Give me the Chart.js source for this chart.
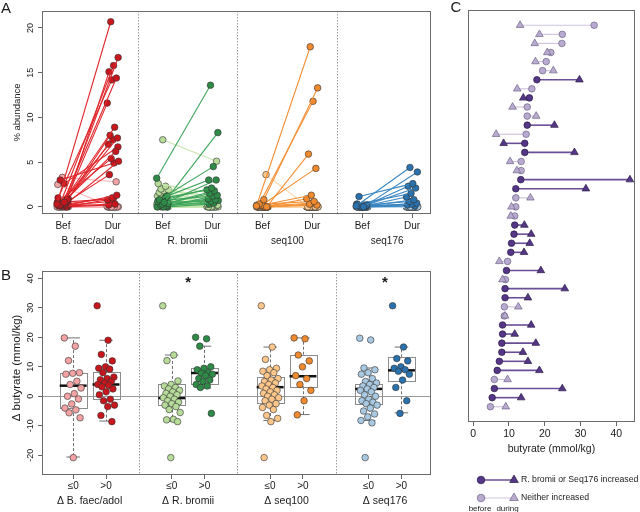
<!DOCTYPE html>
<html lang="en">
<head>
  <meta charset="UTF-8">
  <title>Taxa abundance and butyrate</title>
  <script src="https://cdn.jsdelivr.net/npm/chart.js"></script>
  <style>
    body {
      margin: 0;
      background: #ffffff;
    }
    #fig {
      position: relative;
      width: 640px;
      height: 512px;
      overflow: hidden;
    }
    canvas {
      position: absolute;
    }
  </style>
</head>
<body>
  <div id="fig">
    <canvas id="chartA" style="left:0;top:0" width="440" height="250"></canvas>
    <canvas id="chartB" style="left:0;top:250px" width="440" height="262"></canvas>
    <canvas id="chartC" style="left:440px;top:0" width="200" height="512"></canvas>
  </div>

  <script>
    // axis ticks and labels
    const aTicks = [0, 5, 10, 15, 20];
    const bTicks = [-20, -10, 0, 10, 20, 30, 40];
    const cTicks = [0, 10, 20, 30, 40];
    const taxa = ['B. faec/adol', 'R. bromii', 'seq100', 'seq176'];
    const phaseLabels = ['Bef', 'Dur'];
    const splitLabels = ['≤0', '>0'];
    const starred = ['R. bromii', 'seq176'];

    // panel A: % abundance before and during, one entry per subject
    const bfBef = [0.3, 0.5, 0.2, 0.8, 0.4, 1.0, 0.6, 0.2, 0.9, 0.3, 0.1, 0.7, 0.4, 0.5, 0.2, 3.0, 0.6, 0.1, 0.2, 0.0, 0.1, 0.2, 2.6, 0.5, 0.0,
                   3.3, 2.5, 0.4, 0.3, 0.1, 0, 0, 0, 0, 0, 0, 0, 0.2, 0, 0, 0.1, 0, 0];
    const bfDur = [20.7, 16.7, 15.8, 15.1, 14.4, 14.2, 11.6, 8.9, 8.0, 7.7, 7.5, 7.0, 6.2, 5.4, 5.1, 4.9, 3.6, 1.3, 1.0, 0.8, 0.3, 0.6, 6.7, 0.9, 0.2,
                   2.8, 0, 0.1, 0, 0, 0, 0, 0, 0, 0, 0, 0, 0, 0, 0, 0, 0, 0];
    const rbBef = [3.2, 0.5, 0.8, 1.2, 0.3, 0.6, 1.0, 0.2, 0.4, 0.0, 0.7, 0.1, 0.3, 0.0, 0.5, 0.2, 0.0,
                   7.5, 2.6, 2.3, 2.0, 1.9, 1.8, 1.6, 1.5, 1.3, 1.2, 1.0, 0.9, 0.8, 0.7, 0.6, 0.5, 0.4, 0.3, 0.2, 0.1, 0, 0, 0, 0, 0, 0];
    const rbDur = [13.6, 8.3, 4.5, 3.0, 3.0, 2.1, 1.9, 1.8, 1.5, 1.3, 1.2, 0.9, 0.8, 0.6, 0.7, 0.4, 0.3,
                   5.1, 1.5, 0.3, 0.9, 1.2, 0.2, 0.5, 0.0, 0.4, 0.0, 0.1, 0.6, 0.0, 0.2, 0.0, 0.3, 0.0, 0.1, 0, 0, 0, 0, 0, 0, 0, 0];
    const s100Bef = [0.1, 0.8, 0.3, 0.0, 0.2, 0.1, 0.0, 0.3, 0.0, 0.0, 0.1,
                     3.6, 0.3, 0.2, 0.1, 0, 0, 0, 0, 0, 0, 0, 0, 0, 0, 0, 0, 0, 0, 0, 0, 0, 0, 0, 0, 0, 0, 0, 0, 0, 0, 0, 0];
    const s100Dur = [17.9, 13.3, 11.8, 5.9, 4.3, 1.3, 0.9, 0.6, 0.3, 0.2, 0.4,
                     0, 0, 0, 0, 0, 0, 0, 0, 0, 0, 0, 0, 0, 0, 0, 0, 0, 0, 0, 0, 0, 0, 0, 0, 0, 0, 0, 0, 0, 0, 0, 0];
    const s176Bef = [0.1, 0.0, 1.15, 0.2, 0.0, 0.3, 0.1, 0.0, 0.2, 0.0, 0.1, 0.0, 0.0,
                     0.3, 0.2, 0.1, 0.1, 0, 0, 0, 0, 0, 0, 0, 0, 0, 0, 0, 0, 0, 0, 0, 0, 0, 0, 0, 0, 0, 0, 0, 0, 0, 0];
    const s176Dur = [4.4, 3.9, 2.6, 2.3, 2.1, 1.5, 1.1, 0.8, 0.6, 0.4, 0.3, 0.2, 0.1,
                     0, 0, 0, 0, 0, 0, 0, 0, 0, 0, 0, 0, 0, 0, 0, 0, 0, 0, 0, 0, 0, 0, 0, 0, 0, 0, 0, 0, 0, 0];

    // panel B: change in butyrate, split by whether the taxon went up
    const bfDown = [19.8, 17.0, 12.1, 8.0, 7.8, 7.5, 5.1, 4.0, 2.8, 0.9, 0.0, -0.9, -2.6, -4.0, -4.6, -5.6, -7.3, -20.8];
    const bfUp = [30.7, 19.0, 14.2, 12.0, 10.0, 9.5, 9.2, 8.0, 6.5, 6.0, 5.6, 5.0, 4.5, 4.0, 3.7, 3.2, 2.5, 1.5, 0.5, -1.0, -1.5, -3.0, -3.5, -6.5, -8.6];
    const rbDown = [30.7, 14.0, 12.1, 5.2, 4.0, 3.5, 3.0, 2.5, 2.0, 1.5, 1.0, 0.5, 0.0, -0.5, -1.0, -1.5, -2.0, -2.5, -3.0, -3.5, -4.5, -5.5, -7.8, -8.0, -8.6, -20.8];
    const rbUp = [20.0, 19.5, 17.0, 10.0, 9.5, 9.0, 8.0, 7.8, 7.5, 7.0, 6.0, 5.5, 5.0, 4.0, 3.5, 3.0, -5.8];
    const s100Down = [30.7, 16.7, 12.5, 9.5, 9.0, 8.5, 8.0, 7.0, 6.0, 5.5, 5.0, 4.5, 4.0, 3.5, 3.0, 2.5, 2.0, 1.5, 1.0, 0.5, 0.0, -0.5, -1.0, -1.5, -2.5, -3.0, -3.8, -4.5, -6.5, -7.5, -8.6, -20.8];
    const s100Up = [19.8, 19.5, 14.0, 12.0, 10.0, 7.0, 6.0, 4.0, 2.0, -1.5, -6.3];
    const s176Down = [19.7, 19.1, 9.6, 9.0, 8.0, 7.5, 6.0, 5.0, 4.5, 4.0, 3.5, 3.0, 2.5, 2.0, 1.5, 0.5, 0.0, -1.0, -1.5, -2.0, -2.5, -3.0, -4.0, -5.0, -6.0, -7.0, -8.2, -9.0, -20.8];
    const s176Up = [30.7, 16.7, 12.8, 12.0, 10.0, 9.5, 9.0, 8.5, 7.5, 5.5, 3.0, -1.5, -5.8];

    // box stats: [low whisker, q1, median, q3, high whisker]
    const bfDownBox = [-20.6, -4.0, 3.6, 7.9, 19.8];
    const bfUpBox = [-8.4, -1.1, 4.0, 8.2, 19.0];
    const rbDownBox = [-8.5, -2.8, -0.6, 4.2, 14.0];
    const rbUpBox = [2.8, 4.3, 7.9, 9.6, 17.0];
    const s100DownBox = [-8.2, -2.3, 3.1, 6.4, 16.7];
    const s100UpBox = [-6.2, 3.4, 6.8, 14.1, 19.8];
    const s176DownBox = [-8.2, -2.5, 2.5, 4.3, 9.6];
    const s176UpBox = [-5.6, 5.1, 8.8, 13.2, 16.7];

    // panel C: butyrate (mmol/kg) before / during, and whether R. bromii or Seq176 rose
    const butBefore = [33.8, 24.9, 24.8, 21.7, 20.4, 19.4, 17.8, 16.4, 15.7, 15.1, 15.1, 15.1, 14.8, 14.4, 14.4, 13.4, 13.4, 13.3, 11.9, 11.9, 11.9, 11.6,
                       11.6, 11.4, 10.7, 10.5, 9.6, 9.3, 9.0, 8.9, 8.9, 8.7, 8.7, 8.2, 8.2, 8.0, 8.0, 7.3, 6.7, 5.9, 5.9, 5.3, 4.8];
    const butDuring = [13.1, 18.5, 17.2, 20.7, 17.4, 22.4, 29.7, 12.3, 14.0, 11.0, 17.6, 22.7, 6.4, 8.5, 28.3, 10.3, 12.2, 43.8, 31.5, 16.0, 10.7, 10.5,
                       14.3, 16.2, 15.8, 14.2, 7.3, 18.9, 8.2, 25.6, 15.3, 12.6, 8.9, 16.2, 11.6, 17.5, 13.9, 15.3, 18.5, 9.6, 24.9, 13.4, 9.1];
    const risers = [0, 0, 0, 0, 0, 0, 1, 0, 1, 0, 0, 1, 0, 1, 1, 0, 0, 1, 1, 0, 0, 0,
                    1, 1, 1, 1, 0, 1, 0, 1, 1, 0, 0, 1, 1, 1, 1, 1, 1, 0, 1, 1, 0];

    const FONT = '"Liberation Sans", Arial, sans-serif';
    const palette = [
      { dark: '#c8161d', line: '#e0262c', light: '#f3a3a3', lineLt: '#f6b9b9' },
      { dark: '#2e8b47', line: '#3ea55c', light: '#b7dc9a', lineLt: '#c9e6b0' },
      { dark: '#ef8a2f', line: '#f39036', light: '#fdc68a', lineLt: '#fdd4a6' },
      { dark: '#2a72ad', line: '#3a86c2', light: '#a8c9e1', lineLt: '#bed7ea' }
    ];
    const purple = { dark: '#563787', line: '#6a4f96', light: '#b8abcf', lineLt: '#cfc5de' };

    // deterministic spread so overlapping points stay visible
    const jit = (i, amp) => (((i * 0.618034) % 1) - 0.5) * 2 * amp;

    function txt(ctx, s, x, y, size, o = {}) {
      ctx.save();
      ctx.font = (o.weight || 'normal') + ' ' + size + 'px ' + FONT;
      ctx.fillStyle = o.color || '#1a1a1a';
      ctx.textAlign = o.align || 'center';
      ctx.textBaseline = 'middle';
      ctx.translate(x, y);
      if (o.rot) ctx.rotate(o.rot);
      ctx.fillText(s, 0, 0);
      ctx.restore();
    }

    function frame(ctx, a) {
      ctx.save();
      ctx.strokeStyle = '#6b6b6b';
      ctx.lineWidth = 1;
      ctx.strokeRect(Math.round(a.left) + 0.5, Math.round(a.top) + 0.5,
        Math.round(a.right - a.left) - 1, Math.round(a.bottom - a.top) - 1);
      ctx.restore();
    }

    function vline(ctx, px, a) {
      ctx.save();
      ctx.strokeStyle = '#9a9a9a';
      ctx.lineWidth = 1;
      ctx.setLineDash([1.5, 1.5]);
      ctx.beginPath();
      ctx.moveTo(Math.round(px) + 0.5, a.top);
      ctx.lineTo(Math.round(px) + 0.5, a.bottom);
      ctx.stroke();
      ctx.restore();
    }

    function seg(ctx, x1, y1, x2, y2) {
      ctx.beginPath();
      ctx.moveTo(x1, y1);
      ctx.lineTo(x2, y2);
      ctx.stroke();
    }

    const fixedTicks = vals => s => { s.ticks = vals.map(v => ({ value: v })); };
    const tickGrid = { drawOnChartArea: false, tickLength: 4, color: '#666' };

    // ---------- panel A ----------
    const pairsA = [[bfBef, bfDur], [rbBef, rbDur], [s100Bef, s100Dur], [s176Bef, s176Dur]];
    const setsA = [];
    pairsA.forEach(([bef, dur], k) => {
      const base = 2 * k + 1;
      const pal = palette[k];
      bef.forEach((b, i) => {
        const up = dur[i] > b;
        setsA.push({
          data: [{ x: base + jit(i, 0.12), y: b }, { x: base + 1 + jit(i + 7, 0.12), y: dur[i] }],
          showLine: true,
          borderColor: up ? pal.line : pal.lineLt,
          borderWidth: 1.1,
          backgroundColor: up ? pal.dark : pal.light,
          pointBackgroundColor: up ? pal.dark : pal.light,
          pointBorderColor: '#333',
          pointBorderWidth: 0.6,
          pointRadius: 3.3,
          order: up ? 0 : 1
        });
      });
    });

    const panelA = {
      id: 'panelA',
      beforeDatasetsDraw(chart) {
        const { ctx, chartArea: a, scales: { x } } = chart;
        [2.5, 4.5, 6.5].forEach(v => vline(ctx, x.getPixelForValue(v), a));
      },
      afterDraw(chart) {
        const { ctx, chartArea: a, scales: { x, y } } = chart;
        frame(ctx, a);
        aTicks.forEach(v => txt(ctx, String(v), a.left - 11.5, y.getPixelForValue(v), 9, { rot: -Math.PI / 2 }));
        for (let p = 1; p <= 8; p++) {
          txt(ctx, phaseLabels[(p - 1) % 2], x.getPixelForValue(p), 226, 10);
        }
        taxa.forEach((t, k) => txt(ctx, t, x.getPixelForValue(2 * k + 1.5), 241.5, 10));
        txt(ctx, '% abundance', 17, (a.top + a.bottom) / 2, 9.5, { rot: -Math.PI / 2 });
        txt(ctx, 'A', 6, 9, 15);
      }
    };

    new Chart(document.getElementById('chartA'), {
      type: 'scatter',
      data: { datasets: setsA },
      options: {
        responsive: false,
        animation: false,
        events: [],
        layout: { padding: { top: 11, right: 9, left: 0, bottom: 0 } },
        plugins: { legend: { display: false }, tooltip: { enabled: false } },
        scales: {
          x: {
            type: 'linear', min: 0.58, max: 8.38,
            afterBuildTicks: fixedTicks([1, 2, 3, 4, 5, 6, 7, 8]),
            ticks: { display: false },
            grid: tickGrid,
            border: { display: false },
            afterFit: s => { s.height = 36; }
          },
          y: {
            min: -0.8, max: 21.9,
            afterBuildTicks: fixedTicks(aTicks),
            ticks: { display: false },
            grid: tickGrid,
            border: { display: false },
            afterFit: s => { s.width = 42; }
          }
        }
      },
      plugins: [panelA]
    });

    // ---------- panel B ----------
    const groupsB = [bfDown, bfUp, rbDown, rbUp, s100Down, s100Up, s176Down, s176Up];
    const boxesB = [bfDownBox, bfUpBox, rbDownBox, rbUpBox, s100DownBox, s100UpBox, s176DownBox, s176UpBox];
    const posB = [1, 2, 4, 5, 7, 8, 10, 11];

    const setsB = groupsB.map((vals, g) => {
      const pal = palette[Math.floor(g / 2)];
      const fill = g % 2 ? pal.dark : pal.light;
      return {
        data: vals.map((v, i) => ({ x: posB[g] + jit(i, 0.27), y: v })),
        backgroundColor: fill,
        pointBackgroundColor: fill,
        pointBorderColor: '#333',
        pointBorderWidth: 0.6,
        pointRadius: 3.3
      };
    });

    function drawBox(ctx, x, y, pos, s) {
      const [lo, q1, med, q3, hi] = s;
      const half = 0.41;
      const l = x.getPixelForValue(pos - half), r = x.getPixelForValue(pos + half);
      const c = Math.round(x.getPixelForValue(pos)) + 0.5;
      const sl = x.getPixelForValue(pos - half / 2), sr = x.getPixelForValue(pos + half / 2);
      ctx.save();
      ctx.strokeStyle = '#707070';
      ctx.lineWidth = 1;
      ctx.setLineDash([3, 2]);
      seg(ctx, c, y.getPixelForValue(q3), c, y.getPixelForValue(hi));
      seg(ctx, c, y.getPixelForValue(q1), c, y.getPixelForValue(lo));
      ctx.setLineDash([]);
      seg(ctx, sl, y.getPixelForValue(hi), sr, y.getPixelForValue(hi));
      seg(ctx, sl, y.getPixelForValue(lo), sr, y.getPixelForValue(lo));
      ctx.strokeStyle = '#8c8c8c';
      const top = y.getPixelForValue(q3), bot = y.getPixelForValue(q1);
      ctx.strokeRect(Math.round(l) + 0.5, Math.round(top) + 0.5, Math.round(r - l), Math.round(bot - top));
      ctx.strokeStyle = '#111';
      ctx.lineWidth = 2.5;
      seg(ctx, l, y.getPixelForValue(med), r, y.getPixelForValue(med));
      ctx.restore();
    }

    const panelB = {
      id: 'panelB',
      beforeDatasetsDraw(chart) {
        const { ctx, chartArea: a, scales: { x, y } } = chart;
        [3, 6, 9].forEach(v => vline(ctx, x.getPixelForValue(v), a));
        ctx.save();
        ctx.strokeStyle = '#9a9a9a';
        ctx.lineWidth = 1;
        const y0 = Math.round(y.getPixelForValue(0)) + 0.5;
        seg(ctx, a.left, y0, a.right, y0);
        ctx.restore();
        boxesB.forEach((s, g) => drawBox(ctx, x, y, posB[g], s));
      },
      afterDraw(chart) {
        const { ctx, chartArea: a, scales: { x, y } } = chart;
        frame(ctx, a);
        bTicks.forEach(v => txt(ctx, String(v), a.left - 11.5, y.getPixelForValue(v), 9, { rot: -Math.PI / 2 }));
        posB.forEach((p, g) => txt(ctx, splitLabels[g % 2], x.getPixelForValue(p), 236.5, 10));
        taxa.forEach((t, k) => {
          const mid = (posB[2 * k] + posB[2 * k + 1]) / 2;
          txt(ctx, 'Δ ' + t, x.getPixelForValue(mid), 251.5, 10.5);
          if (starred.includes(t)) {
            txt(ctx, '*', x.getPixelForValue(mid), y.getPixelForValue(38.6), 15, { weight: 'bold' });
          }
        });
        txt(ctx, 'Δ butyrate (mmol/kg)', 17, 118, 11.5, { rot: -Math.PI / 2 });
        txt(ctx, 'B', 6, 26, 15);
      }
    };

    new Chart(document.getElementById('chartB'), {
      type: 'scatter',
      data: { datasets: setsB },
      options: {
        responsive: false,
        animation: false,
        events: [],
        layout: { padding: { top: 21, right: 9, left: 0, bottom: 0 } },
        plugins: { legend: { display: false }, tooltip: { enabled: false } },
        scales: {
          x: {
            type: 'linear', min: 0.05, max: 11.9,
            afterBuildTicks: fixedTicks(posB),
            ticks: { display: false },
            grid: tickGrid,
            border: { display: false },
            afterFit: s => { s.height = 37; }
          },
          y: {
            min: -26.7, max: 42.5,
            afterBuildTicks: fixedTicks(bTicks),
            ticks: { display: false },
            grid: tickGrid,
            border: { display: false },
            afterFit: s => { s.width = 42; }
          }
        }
      },
      plugins: [panelB]
    });

    // ---------- panel C ----------
    const setsC = butBefore.map((b, i) => {
      const pal = purple;
      const up = risers[i] === 1;
      return {
        data: [{ x: b, y: i + 1 }, { x: butDuring[i], y: i + 1 }],
        showLine: true,
        borderColor: up ? pal.line : pal.lineLt,
        borderWidth: up ? 1.6 : 1.2,
        backgroundColor: up ? pal.dark : pal.light,
        pointBackgroundColor: up ? pal.dark : pal.light,
        pointBorderColor: up ? '#2a1b45' : '#6f6387',
        pointBorderWidth: 0.7,
        pointStyle: ['circle', 'triangle'],
        pointRadius: [3.3, 4.4]
      };
    });

    function marker(ctx, style, x, y, r, fill, stroke) {
      ctx.save();
      ctx.fillStyle = fill;
      ctx.strokeStyle = stroke;
      ctx.lineWidth = 0.7;
      ctx.beginPath();
      if (style === 'circle') {
        ctx.arc(x, y, r, 0, Math.PI * 2);
      } else {
        ctx.moveTo(x, y - r);
        ctx.lineTo(x + r * 0.866, y + r * 0.5);
        ctx.lineTo(x - r * 0.866, y + r * 0.5);
        ctx.closePath();
      }
      ctx.fill();
      ctx.stroke();
      ctx.restore();
    }

    const panelC = {
      id: 'panelC',
      afterDraw(chart) {
        const { ctx, chartArea: a, scales: { x } } = chart;
        frame(ctx, a);
        cTicks.forEach(v => txt(ctx, String(v), x.getPixelForValue(v), 434, 10.5));
        txt(ctx, 'butyrate (mmol/kg)', (a.left + a.right) / 2, 449, 10.5);

        const rows = [
          { y: 480, line: purple.line, w: 1.6, fill: purple.dark, edge: '#2a1b45', label: 'R. bromii or Seq176 increased' },
          { y: 498, line: purple.lineLt, w: 1.2, fill: purple.light, edge: '#6f6387', label: 'Neither increased' }
        ];
        rows.forEach(r => {
          ctx.save();
          ctx.strokeStyle = r.line;
          ctx.lineWidth = r.w;
          seg(ctx, 41, r.y, 74, r.y);
          ctx.restore();
          marker(ctx, 'circle', 41, r.y, 3.8, r.fill, r.edge);
          marker(ctx, 'triangle', 74, r.y, 5, r.fill, r.edge);
          txt(ctx, r.label, 81, r.y - 0.5, 8.7, { align: 'left' });
        });
        txt(ctx, 'before', 40, 508.5, 8);
        txt(ctx, 'during', 67.5, 508.5, 8);
        txt(ctx, 'C', 16, 8, 15);
      }
    };

    new Chart(document.getElementById('chartC'), {
      type: 'scatter',
      data: { datasets: setsC },
      options: {
        responsive: false,
        animation: false,
        events: [],
        layout: { padding: { top: 10, right: 2, left: 28, bottom: 0 } },
        plugins: { legend: { display: false }, tooltip: { enabled: false } },
        scales: {
          x: {
            type: 'linear', min: -1.46, max: 45.2,
            afterBuildTicks: fixedTicks(cTicks),
            ticks: { display: false },
            grid: tickGrid,
            border: { display: false },
            afterFit: s => { s.height = 90; }
          },
          y: {
            display: false,
            reverse: true,
            min: -0.68, max: 44.68
          }
        }
      },
      plugins: [panelC]
    });
  </script>
</body>
</html>
